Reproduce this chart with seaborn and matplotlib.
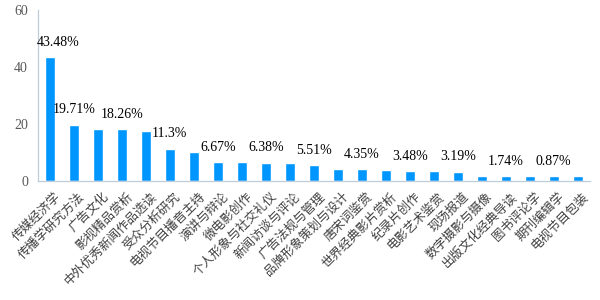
import matplotlib
matplotlib.use("Agg")
import matplotlib.pyplot as plt
import seaborn as sns
import pandas as pd

categories = ["传媒经济学", "传播学研究方法", "广告文化", "影视精品赏析", "中外优秀新闻作品选读",
              "受众分析研究", "电视节目播音主持", "演讲与辩论", "微电影创作", "个人形象与社交礼仪",
              "新闻访谈与评论", "广告法规与管理", "品牌形象策划与设计", "唐宋词鉴赏", "世界经典影片赏析",
              "纪录片创作", "电影艺术鉴赏", "现场报道", "数字摄影与摄像", "出版文化经典导读",
              "图书评论学", "期刊编辑学", "电视节目包装"]
values = [43.48, 19.71, 18.26, 18.26, 17.39, 11.3, 10.14, 6.67, 6.67, 6.38, 6.38, 5.51,
          4.35, 4.06, 3.77, 3.48, 3.48, 3.19, 1.74, 1.74, 1.74, 1.74, 1.74]
pct_labels = ["43.48%", "19.71%", "", "18.26%", "", "11.3%", "", "6.67%", "", "6.38%", "",
              "5.51%", "", "4.35%", "", "3.48%", "", "3.19%", "", "1.74%", "", "0.87%", ""]
yticks = [0, 20, 40, 60]

sns.set_theme(style="white")
plt.rcParams['font.family'] = ['Noto Sans CJK SC', 'DejaVu Sans']

df = pd.DataFrame({"cat": categories, "val": values})

fig = plt.figure(figsize=(6, 3), dpi=100)
ax = fig.add_axes([0.063, 0.397, 0.92, 0.57])
sns.barplot(data=df, x="cat", y="val", color="#0096FF", width=0.4, saturation=1, ax=ax)

ax.set_xlim(-0.5, len(categories) - 0.5)
ax.set_ylim(0, 60)
ax.set_yticks(yticks)
ax.set_yticklabels([str(t) for t in yticks], family="Liberation Serif", fontsize=10, color="#595959")
ax.set_xlabel("")
ax.set_ylabel("")

ax.set_xticks(range(len(categories)))
ax.set_xticklabels([])
for i, c in enumerate(categories):
    ax.annotate(c, (i, 0), xycoords=("data", "axes fraction"), xytext=(3, -6.5),
                textcoords="offset points", rotation=45, rotation_mode="anchor",
                ha="right", va="top", fontsize=9, color="#404040",
                family=['Noto Sans CJK SC', 'DejaVu Sans'])
ax.tick_params(axis="x", length=0)
ax.tick_params(axis="y", length=0, pad=7)

# boundary tick marks on x axis
ax.set_xticks([i - 0.5 for i in range(len(categories) + 1)], minor=True)
ax.tick_params(axis="x", which="minor", length=5, width=0.8, color="#BFCCDA", direction="out")

for s in ["top", "right"]:
    ax.spines[s].set_visible(False)
for s in ["left", "bottom"]:
    ax.spines[s].set_color("#BFCCDA")
    ax.spines[s].set_linewidth(0.9)

for i, (v, lab) in enumerate(zip(values, pct_labels)):
    if lab:
        dx = 6 if i == 0 else 0
        ax.annotate(lab, (i, v), xytext=(dx, 6), textcoords="offset points",
                    ha="center", va="bottom", fontsize=10, family="Liberation Serif", color="black")

fig.savefig("out.png", dpi=100)
